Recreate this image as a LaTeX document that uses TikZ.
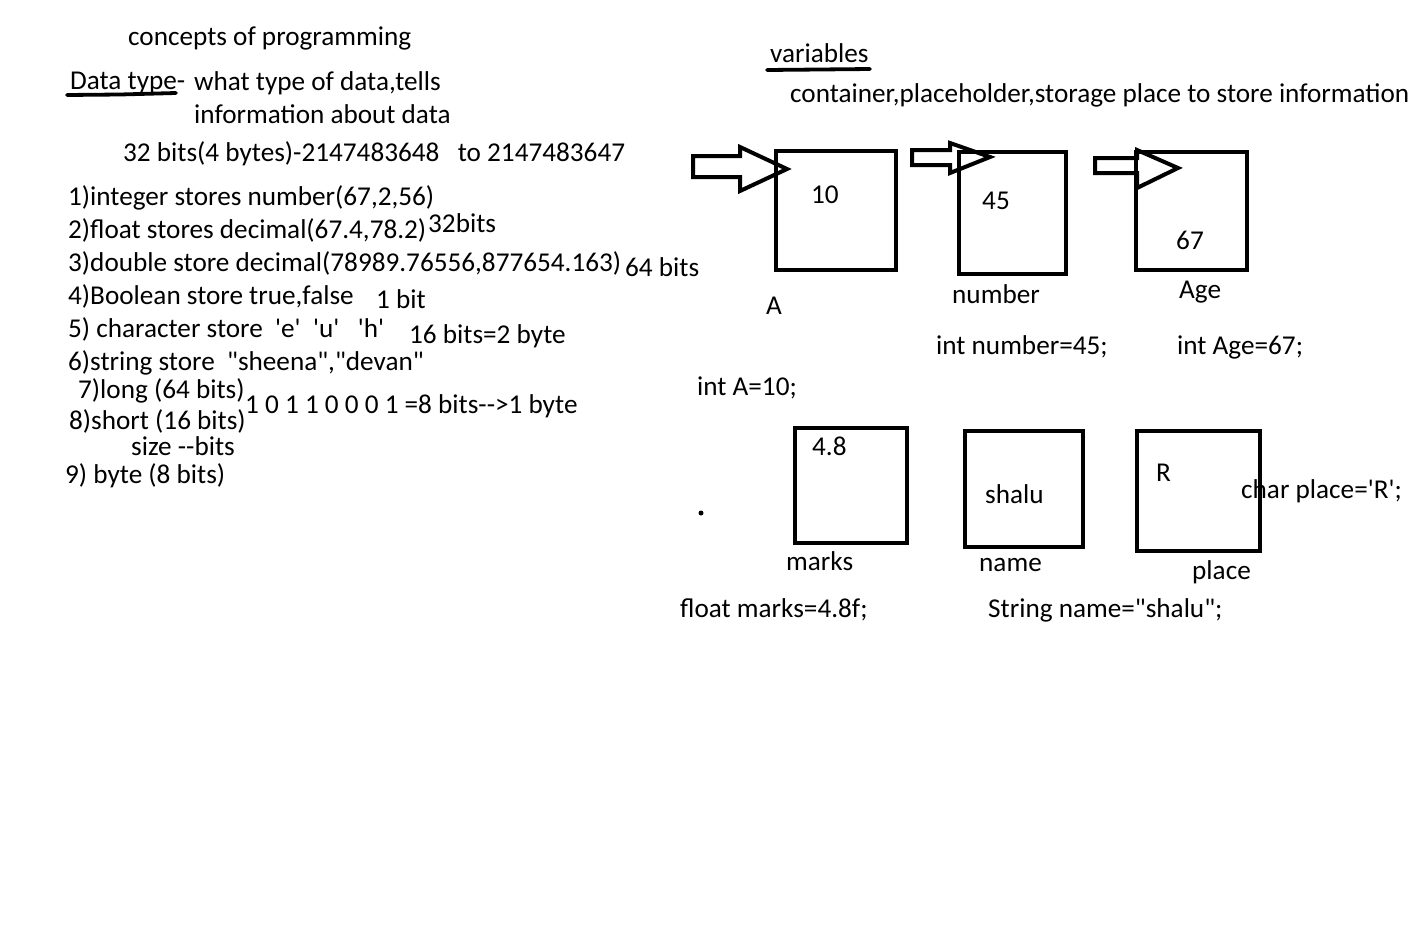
\documentclass[tikz,border=0pt]{standalone}
\usepackage{fontspec}
\newfontfamily\cf{Carlito}
\begin{document}
\begin{tikzpicture}[x=1pt,y=-1pt,
  txt/.style={anchor=base west,inner sep=0pt,font=\cf\fontsize{27.2}{31}\selectfont},
  box/.style={draw,line width=4.2pt,inner sep=0pt},
  arr/.style={draw,line width=4pt,line join=miter},
  uline/.style={line width=3.8pt,line cap=round}]
\useasboundingbox (0,0) rectangle (1414,945);
% left side
\node[txt] (title) at (128,45) {concepts of programming};
\node[txt] (dt) at (70,89) {Data type-};
\draw[uline] (67,95) -- (120,94.5) -- (176,93);
\node[txt] (dt1) at (194,90) {what type of data,tells};
\node[txt] (dt2) at (194,123) {information about data};
\node[txt] (range) at (123,161) {32 bits(4 bytes)-2147483648\ \ \ to 2147483647};
\node[txt] (l1) at (68,205) {1)integer stores number(67,2,56)};
\node[txt] (l2) at (68,238) {2)float stores decimal(67.4,78.2)};
\node[txt] (b2) at (428,232) {32bits};
\node[txt] (l3) at (68,271) {3)double store decimal(78989.76556,877654.163)};
\node[txt] (b3) at (625,276) {64 bits};
\node[txt] (l4) at (68,304) {4)Boolean store true,false};
\node[txt] (b4) at (376,308) {1 bit};
\node[txt] (l5) at (68,337) {5) character store\ \ 'e'\ \ 'u'\ \ \ 'h'};
\node[txt] (b5) at (409,343) {16 bits=2 byte};
\node[txt] (l6) at (68,370) {6)string store\ \ "sheena","devan"};
\node[txt] (l7) at (78,398) {7)long (64 bits)};
\node[txt] (bin) at (245,413) {1 0 1 1 0 0 0 1 =8 bits-->1 byte};
\node[txt] (l8) at (69,429) {8)short (16 bits)};
\node[txt] (sz) at (131,455) {size --bits};
\node[txt] (l9) at (65,483) {9) byte (8 bits)};
% right side
\node[txt] (var) at (770,62) {variables};
\draw[uline] (767,70) -- (820,69.5) -- (870,69);
\node[txt] (cont) at (790,102) {container,placeholder,storage place to store information};
% boxes row 1
\node[box,minimum width=120pt,minimum height=119pt] (bA) at (836,210.5) {};
\node[box,minimum width=107pt,minimum height=122pt] (bN) at (1012.5,213) {};
\node[box,minimum width=111pt,minimum height=118pt] (bG) at (1191.5,211) {};
\node[txt] (v10) at (811,203) {10};
\node[txt] (v45) at (982,209) {45};
\node[txt] (v67) at (1176,249) {67};
\node[txt] (nA) at (766,314) {A};
\node[txt] (nN) at (952,303) {number};
\node[txt] (nG) at (1179,298) {Age};
\node[txt] (dN) at (936,354) {int number=45;};
\node[txt] (dG) at (1177,354) {int Age=67;};
\node[txt] (dA) at (697,395) {int A=10;};
% arrows
\draw[arr] (740,156) -- (693,156) -- (693,177) -- (740,177) -- (740,191) -- (787,169) -- (740,147) -- cycle;
\draw[arr] (950,150) -- (912,150) -- (912,165) -- (950,165) -- (950,173) -- (990,157) -- (950,143) -- cycle;
\draw[arr] (1137,158) -- (1095,158) -- (1095,173) -- (1137,173) -- (1137,188) -- (1178,168) -- (1137,150) -- cycle;
% boxes row 2
\node[box,minimum width=112pt,minimum height=115pt] (bM) at (851,485.5) {};
\node[box,minimum width=118pt,minimum height=116pt] (bS) at (1024,489) {};
\node[box,minimum width=123pt,minimum height=120pt] (bP) at (1198.5,491) {};
\node[txt] (v48) at (812,455) {4.8};
\node[txt] (vsh) at (985,503) {shalu};
\node[txt] (vR) at (1156,481) {R};
\node[txt] (dP) at (1241,498) {char place='R';};
\fill (701,513) circle (2.5);
\node[txt] (nM) at (786,570) {marks};
\node[txt] (nS) at (979,571) {name};
\node[txt] (nP) at (1192,579) {place};
\node[txt] (dM) at (680,617) {float marks=4.8f;};
\node[txt] (dS) at (988,617) {String name="shalu";};
\end{tikzpicture}
\end{document}
